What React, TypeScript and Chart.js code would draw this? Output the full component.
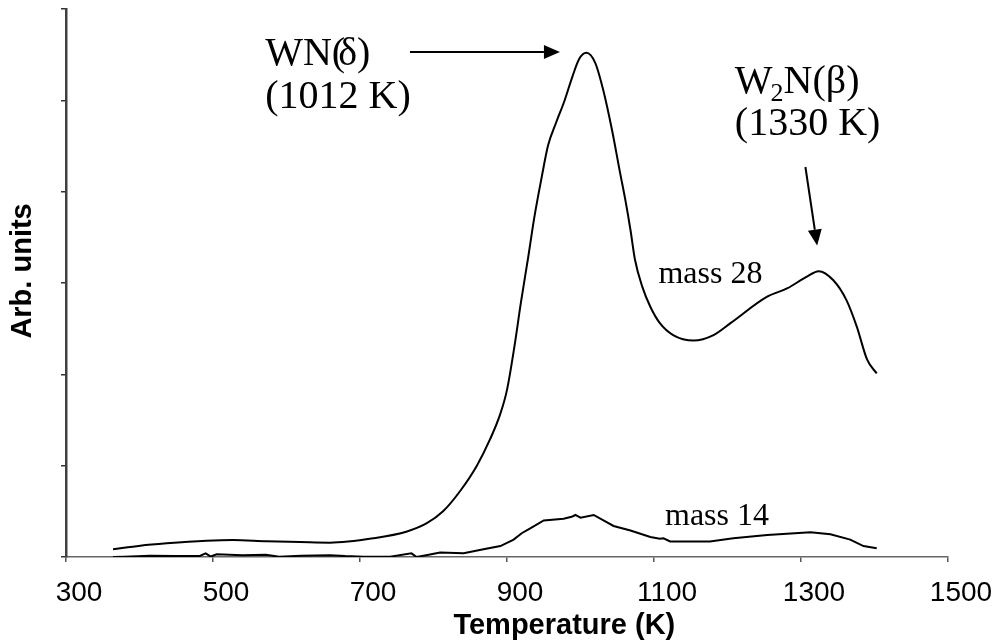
import React, { useEffect, useRef } from "react";
import { Chart, registerables } from "chart.js";

Chart.register(...registerables);

// Temperature (K) and signal (arb. units)
const temps28 = [364, 401, 437, 491, 527, 573, 618, 659, 718, 764, 791, 813, 836, 859, 877, 891, 900, 910, 919, 929, 937, 947, 956, 967, 978, 989, 998, 1008, 1020, 1031, 1043, 1054, 1061, 1068, 1074, 1084, 1095, 1108, 1126, 1154, 1181, 1204, 1254, 1281, 1308, 1324, 1344, 1362, 1376, 1390, 1403];
const mass28 = [0.084, 0.124, 0.15, 0.178, 0.186, 0.172, 0.164, 0.157, 0.205, 0.28, 0.37, 0.5, 0.72, 1.0, 1.29, 1.57, 1.83, 2.3, 2.79, 3.29, 3.71, 4.15, 4.51, 4.76, 4.99, 5.26, 5.45, 5.52, 5.41, 5.11, 4.67, 4.2, 3.91, 3.58, 3.26, 2.96, 2.74, 2.56, 2.43, 2.37, 2.43, 2.56, 2.85, 2.94, 3.07, 3.13, 3.03, 2.81, 2.52, 2.16, 2.01];

const temps14 = [364, 380, 414, 450, 482, 490, 497, 505, 540, 572, 590, 620, 659, 680, 705, 741, 770, 777, 790, 809, 841, 868, 891, 909, 920, 931, 950, 977, 988, 993, 1000, 1018, 1045, 1068, 1095, 1108, 1113, 1122, 1176, 1208, 1254, 1313, 1340, 1367, 1385, 1403];
const mass14 = [0.0, 0.003, 0.014, 0.01, 0.012, 0.04, 0.005, 0.03, 0.02, 0.025, 0.004, 0.015, 0.02, 0.01, 0.004, 0.004, 0.04, 0.0, 0.02, 0.05, 0.04, 0.084, 0.12, 0.19, 0.26, 0.31, 0.4, 0.42, 0.44, 0.46, 0.43, 0.46, 0.34, 0.29, 0.22, 0.2, 0.205, 0.17, 0.17, 0.205, 0.24, 0.27, 0.25, 0.19, 0.12, 0.095];

const xMin = 300;
const xMax = 1500;
const xStep = 200;
const yMin = 0;
const yMax = 6;

const xTitle = "Temperature (K)";
const yTitle = "Arb. units";

const serif = '"Liberation Serif", "Times New Roman", serif';
const sans = '"Liberation Sans", Arial, sans-serif';

function arrow(ctx: CanvasRenderingContext2D, x1: number, y1: number, x2: number, y2: number) {
  const ang = Math.atan2(y2 - y1, x2 - x1);
  const head = 16;
  const half = 7;
  const bx = x2 - head * Math.cos(ang);
  const by = y2 - head * Math.sin(ang);
  ctx.beginPath();
  ctx.moveTo(x1, y1);
  ctx.lineTo(bx, by);
  ctx.lineWidth = 2;
  ctx.stroke();
  ctx.beginPath();
  ctx.moveTo(x2, y2);
  ctx.lineTo(bx + half * Math.sin(ang), by - half * Math.cos(ang));
  ctx.lineTo(bx - half * Math.sin(ang), by + half * Math.cos(ang));
  ctx.closePath();
  ctx.fill();
}

const annotationPlugin = {
  id: "tpdAnnotations",
  afterDraw(chart: any) {
    const { ctx, scales, chartArea } = chart;
    const x = scales.x;
    const y = scales.y;
    const px = (t: number) => x.getPixelForValue(t);
    const py = (v: number) => y.getPixelForValue(v);
    ctx.save();
    ctx.fillStyle = "#000";
    ctx.strokeStyle = "#000";
    ctx.textBaseline = "alphabetic";
    ctx.textAlign = "left";

    // WN(δ) label
    ctx.font = `40px ${serif}`;
    let lx = px(571);
    const wn = "WN(";
    ctx.fillText(wn, lx, py(5.387));
    const wnW = ctx.measureText(wn).width;
    ctx.fillText("δ)", lx + wnW - 7, py(5.387));
    ctx.fillText("(1012 K)", lx, py(4.916));

    // W2N(β) label
    lx = px(1210);
    ctx.fillText("W", lx, py(5.08));
    const wW = ctx.measureText("W").width;
    ctx.font = `26px ${serif}`;
    ctx.fillText("2", lx + wW - 2, py(5.08) + 8);
    const twoW = ctx.measureText("2").width;
    ctx.font = `40px ${serif}`;
    ctx.fillText("N(β)", lx + wW - 2 + twoW, py(5.08));
    ctx.fillText("(1330 K)", lx, py(4.62));

    // arrows
    arrow(ctx, px(768), py(5.53), px(972), py(5.53));
    arrow(ctx, px(1306), py(4.27), px(1322), py(3.41));

    // series labels
    ctx.font = `32px ${serif}`;
    ctx.fillText("mass 28", px(1106), py(3.0));
    ctx.fillText("mass 14", px(1115), py(0.35));

    // axis titles
    ctx.font = `bold 29px ${sans}`;
    ctx.textAlign = "center";
    ctx.fillText(xTitle, chartArea.left + (chartArea.right - chartArea.left) * 0.565, 634);
    ctx.save();
    ctx.translate(23, chartArea.top + (chartArea.bottom - chartArea.top) * 0.478);
    ctx.rotate(-Math.PI / 2);
    ctx.textBaseline = "middle";
    ctx.font = `bold 29px ${sans}`;
    ctx.fillText(yTitle, 0, 0);
    ctx.restore();
    ctx.restore();
  },
};

export default function App() {
  const ref = useRef<HTMLCanvasElement | null>(null);

  useEffect(() => {
    if (!ref.current) return;
    const chart = new Chart(ref.current, {
      type: "line",
      data: {
        datasets: [
          {
            label: "mass 28",
            data: temps28.map((t, i) => ({ x: t, y: mass28[i] })),
            borderColor: "#000",
            borderWidth: 2,
            pointRadius: 0,
            fill: false,
            cubicInterpolationMode: "monotone",
          },
          {
            label: "mass 14",
            data: temps14.map((t, i) => ({ x: t, y: mass14[i] })),
            borderColor: "#000",
            borderWidth: 2,
            pointRadius: 0,
            fill: false,
            tension: 0,
          },
        ],
      },
      options: {
        responsive: false,
        animation: false,
        devicePixelRatio: 1,
        layout: { padding: { top: 9, right: 51, left: 0, bottom: 0 } },
        plugins: { legend: { display: false }, tooltip: { enabled: false } },
        scales: {
          x: {
            type: "linear",
            min: xMin,
            max: xMax,
            afterFit: (s: any) => {
              s.height = 87;
            },
            ticks: {
              stepSize: xStep,
              color: "#000",
              font: { family: sans, size: 28 },
              padding: 14,
              labelOffset: 13,
              maxRotation: 0,
              autoSkip: false,
              callback: (v: any) => String(v),
            },
            grid: { drawOnChartArea: false, drawTicks: true, tickLength: 5, color: "#555", lineWidth: 1.5 },
            border: { display: true, color: "#666", width: 1.5 },
            title: { display: false },
          },
          y: {
            type: "linear",
            min: yMin,
            max: yMax,
            afterFit: (s: any) => {
              s.width = 66;
            },
            ticks: { display: false, stepSize: 1 },
            grid: { drawOnChartArea: false, drawTicks: true, tickLength: 5, color: "#333", lineWidth: 1.5 },
            border: { display: true, color: "#404040", width: 2.5 },
            title: { display: false },
          },
        },
      },
      plugins: [annotationPlugin],
    } as any);
    return () => chart.destroy();
  }, []);

  return (
    <div style={{ position: "fixed", left: 0, top: 0, width: 999, height: 644, background: "#fff" }}>
      <canvas ref={ref} width={999} height={644} />
    </div>
  );
}
